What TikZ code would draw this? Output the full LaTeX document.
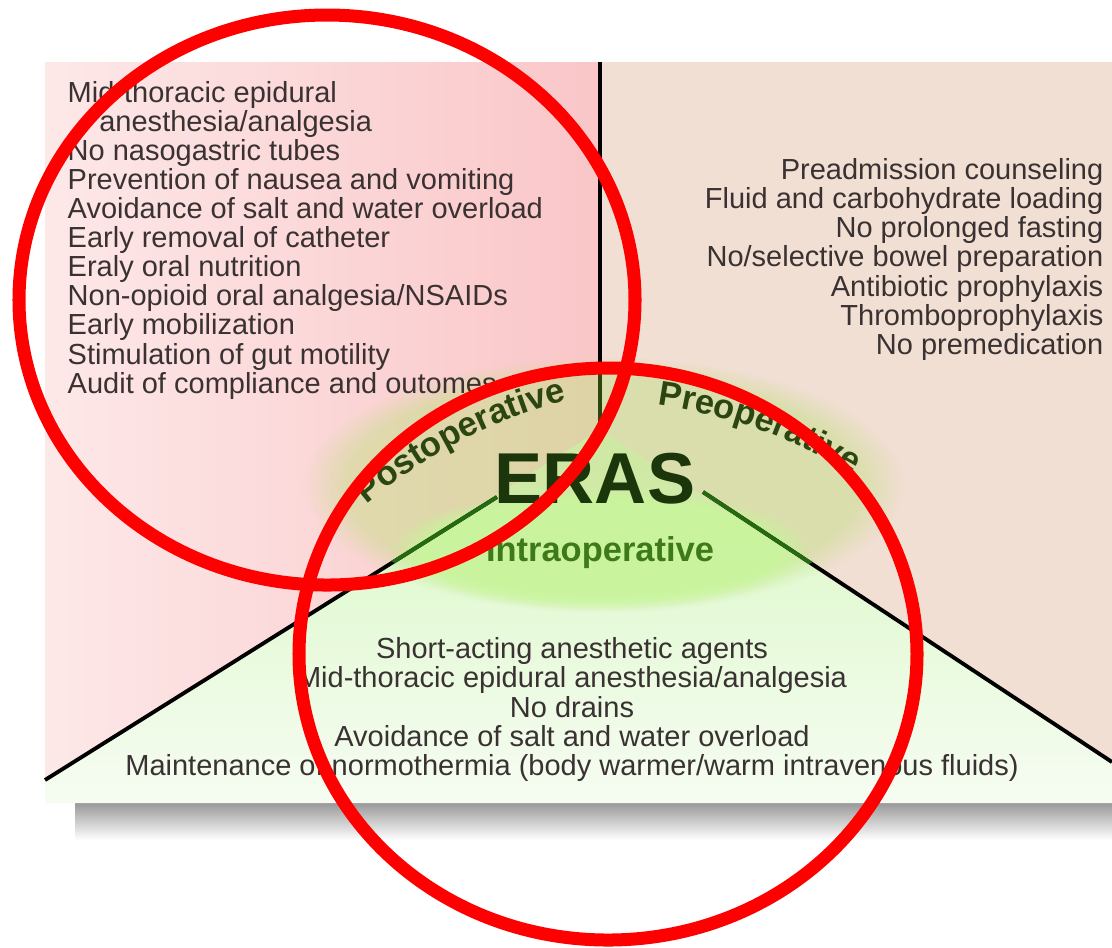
\documentclass[tikz,border=0pt]{standalone}
\usepackage{fontspec}
\setmainfont{Liberation Sans}
\usetikzlibrary{positioning,decorations.text,fadings}
\definecolor{cpink}{RGB}{253,232,232}
\definecolor{cpinkd}{RGB}{250,198,200}
\definecolor{cpeach}{RGB}{241,223,211}
\definecolor{cgreen}{RGB}{214,248,192}
\definecolor{cgreenl}{RGB}{246,252,242}
\definecolor{cglow}{RGB}{200,222,140}
\definecolor{cglowin}{RGB}{196,250,150}
\definecolor{cink}{RGB}{58,50,50}
\definecolor{ceras}{RGB}{26,54,10}
\definecolor{cphase}{RGB}{44,70,18}
\definecolor{cintra}{RGB}{62,122,26}
\definecolor{cmark}{RGB}{255,0,0}
\newcommand{\listfont}{\fontsize{8.25}{8.25}\selectfont}
\newcommand{\phasefont}{\fontsize{9.8}{9.8}\selectfont\bfseries}

\begin{document}
\begin{tikzpicture}[x=0.01cm, y=-0.01cm,
  items/.style={inner sep=0pt, text=cink, font=\listfont},
  divider/.style={line width=1.1pt, black},
  marker/.style={line width=3.7pt, cmark}]
  \useasboundingbox (0,0) rectangle (1112,947);
  % panel corners and the hub where the three parts meet
  \coordinate (tl) at (45,62);
  \coordinate (tm) at (600,62);
  \coordinate (tr) at (1112,62);
  \coordinate (hub) at (600,430);
  \coordinate (bl) at (45,780);
  \coordinate (br) at (1112,762);
  \coordinate (fl) at (45,803);
  \coordinate (fr) at (1112,803);
  % shadow under the panel
  \shade[top color=black!40, bottom color=white] (75,803) rectangle (1112,840);
  % the three parts
  \shade[left color=cpink, right color=cpinkd] (tl) -- (tm) -- (hub) -- (bl) -- cycle;
  \fill[cpeach] (tm) -- (tr) -- (br) -- (hub) -- cycle;
  \shade[top color=cgreen, bottom color=cgreenl] (bl) -- (hub) -- (br) -- (fr) -- (fl) -- cycle;
  % glow round the centre
  \fill[cglow, opacity=0.55, path fading=circle with fuzzy edge 15 percent] (603,485) ellipse [x radius=300, y radius=128];
  \fill[cglowin, opacity=0.6, path fading=circle with fuzzy edge 15 percent] (600,550) ellipse [x radius=210, y radius=60];
  % dividers
  \coordinate (vend) at (600,433);
  \coordinate (lend) at (497,497);
  \coordinate (rend) at (703,492);
  \draw[divider] (tm) -- (vend);
  \draw[divider] (bl) -- (lend);
  \draw[divider] (rend) -- (br);
  \begin{scope}
    \clip (603,485) ellipse [x radius=283, y radius=115];
    \draw[divider, cphase] (tm) -- (vend);
    \draw[divider, cphase!80!green] (bl) -- (lend);
    \draw[divider, cphase!80!green] (rend) -- (br);
  \end{scope}
  % centre labels
  \node[font=\fontsize{20.5}{20.5}\selectfont\bfseries, text=ceras] (eras) at (595,479) {ERAS};
  \node[font=\phasefont, text=cintra] (intra) at (600,553) {Intraoperative};
  \coordinate (postc) at (700,900);
  \coordinate (prec) at (585,920);
  \path[decorate, decoration={text along path, text align=center, text color=cphase,
      text={|\phasefont|Postoperative}}]
    ([shift={(137:5.17cm)}]postc) arc[start angle=137, end angle=98, radius=5.17cm];
  \path[decorate, decoration={text along path, text align=center, text color=cphase,
      text={|\phasefont|Preoperative}}]
    ([shift={(90:5.20cm)}]prec) arc[start angle=90, end angle=51, radius=5.20cm];
  % item lists (base = last line)
  \node[items, align=left, anchor=base west] (postlist) at (67,393) {%
    Mid-thoracic epidural\\
    \hspace*{9pt}anesthesia/analgesia\\
    No nasogastric tubes\\
    Prevention of nausea and vomiting\\
    Avoidance of salt and water overload\\
    Early removal of catheter\\
    Eraly oral nutrition\\
    Non-opioid oral analgesia/NSAIDs\\
    Early mobilization\\
    Stimulation of gut motility\\
    Audit of compliance and outomes};
  \node[items, align=right, anchor=base east] (prelist) at (1104,354) {%
    Preadmission counseling\\
    Fluid and carbohydrate loading\\
    No prolonged fasting\\
    No/selective bowel preparation\\
    Antibiotic prophylaxis\\
    Thromboprophylaxis\\
    No premedication};
  \node[items, align=center, anchor=base] (intralist) at (572,775) {%
    Short-acting anesthetic agents\\
    Mid-thoracic epidural anesthesia/analgesia\\
    No drains\\
    Avoidance of salt and water overload\\
    Maintenance of normothermia (body warmer/warm intravenous fluids)};
  % red marks
  \draw[marker] (327,300) ellipse [x radius=308, y radius=285];
  \draw[marker] (608,654) ellipse [x radius=309, y radius=286];
\end{tikzpicture}
\end{document}
